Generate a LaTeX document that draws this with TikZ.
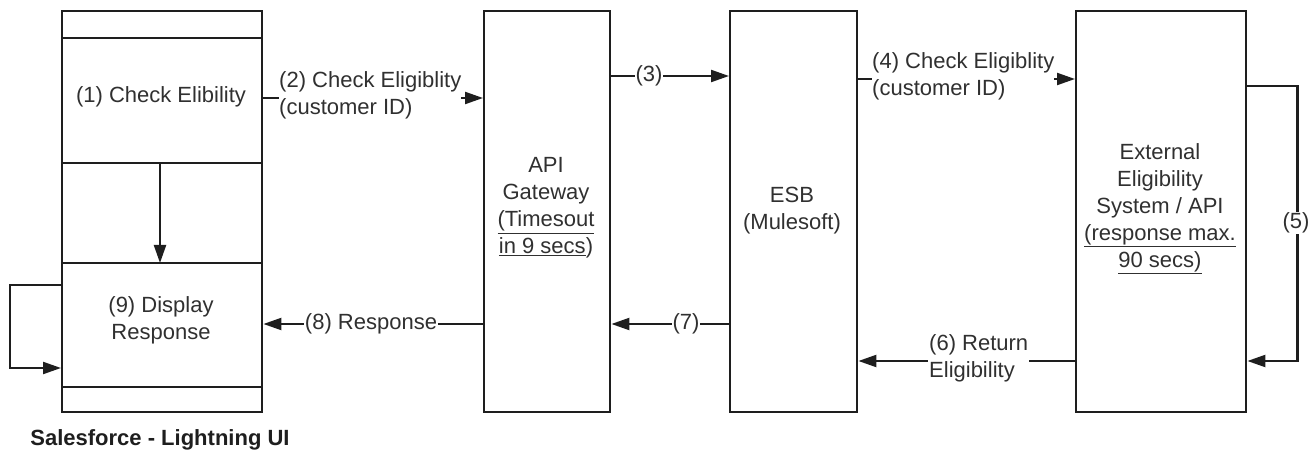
\documentclass[tikz,border=0pt]{standalone}
\usepackage{fontspec}
\setmainfont{Liberation Sans}
\usetikzlibrary{arrows.meta}
\definecolor{linec}{HTML}{1E1E1E}
\definecolor{textc}{HTML}{303030}
\begin{document}
\begin{tikzpicture}[x=1pt,y=-1pt,
  box/.style={draw=linec, line width=2.4pt, minimum height=401pt, inner sep=0pt, anchor=north west},
  ln/.style={draw=linec, line width=2.4pt},
  arr/.style={draw=linec, line width=2.2pt, -{Triangle[length=18pt,width=12pt]}},
  txt/.style={font=\fontsize{22}{27}\selectfont, text=textc, align=center, inner sep=0pt},
  lab/.style={txt, fill=white, inner xsep=1pt, inner ysep=1pt}
]
\useasboundingbox (0,0) rectangle (1315,457);

% boxes
\node[box, minimum width=200pt] (sf) at (61,10) {};
\node[box, minimum width=126pt] (api) at (483,10) {};
\node[box, minimum width=127pt] (esb) at (729,10) {};
\node[box, minimum width=170pt] (ext) at (1075,10) {};

% level coordinates
\coordinate (y38) at (0,38);
\coordinate (y163) at (0,163);
\coordinate (y263) at (0,263);
\coordinate (y387) at (0,387);
\coordinate (y98) at (0,98);
\coordinate (y76) at (0,76);
\coordinate (y79) at (0,79);
\coordinate (y86) at (0,86);
\coordinate (y324) at (0,324);
\coordinate (y361) at (0,361);
\coordinate (y285) at (0,285);
\coordinate (y368) at (0,368);

% dividers of the Salesforce box
\draw[ln] (sf.west |- y38) -- (sf.east |- y38);
\draw[ln] (sf.west |- y163) -- (sf.east |- y163);
\draw[ln] (sf.west |- y263) -- (sf.east |- y263);
\draw[ln] (sf.west |- y387) -- (sf.east |- y387);

% texts in boxes
\node[txt] (c1) at (161,97) {(1) Check Elibility};
\node[txt] (c9) at (161,320) {(9) Display\\Response};
\node[txt] (apit) at (546,208) {API\\Gateway\\\underline{(Timesout}\\\underline{in 9 secs})};
\node[txt] (esbt) at (792,211) {ESB\\(Mulesoft)};
\node[txt] (extt) at (1160,209) {External\\Eligibility\\System / API\\\underline{(response max.}\\\underline{90 secs)}};
\node[txt, font=\fontsize{22}{27}\selectfont\bfseries, text=linec] (title) at (160,440) {Salesforce - Lightning UI};

% connectors
\coordinate (d1) at (160,163);
\coordinate (d2) at (160,263);
\draw[arr] (d1) -- (d2);

\draw[arr] (sf.west |- y285) -- ++(-51,0) |- (sf.west |- y368);

\draw[arr] (sf.east |- y98) -- (api.west |- y98);
\node[lab, inner xsep=0pt, align=left, anchor=west] (l2) at (279,95) {(2) Check Eligiblity\\(customer ID)};

\draw[arr] (api.east |- y76) -- (esb.west |- y76);
\node[lab] (l3) at (649,76) {(3)};

\draw[arr] (esb.east |- y79) -- (ext.west |- y79);
\node[lab, inner xsep=0pt, align=left, anchor=west] (l4) at (872,76) {(4) Check Eligiblity\\(customer ID)};

\draw[arr] (ext.east |- y86) -- ++(50,0) |- (ext.east |- y361);
\node[lab] (l5) at (1296,223) {(5)};

\draw[arr] (ext.west |- y361) -- (esb.east |- y361);
\node[lab, align=left, anchor=west] (l6) at (928,358) {(6) Return\\Eligibility};

\draw[arr] (esb.west |- y324) -- (api.east |- y324);
\node[lab] (l7) at (686,324) {(7)};

\draw[arr] (api.west |- y324) -- (sf.east |- y324);
\node[lab] (l8) at (371,324) {(8) Response};
\end{tikzpicture}
\end{document}
